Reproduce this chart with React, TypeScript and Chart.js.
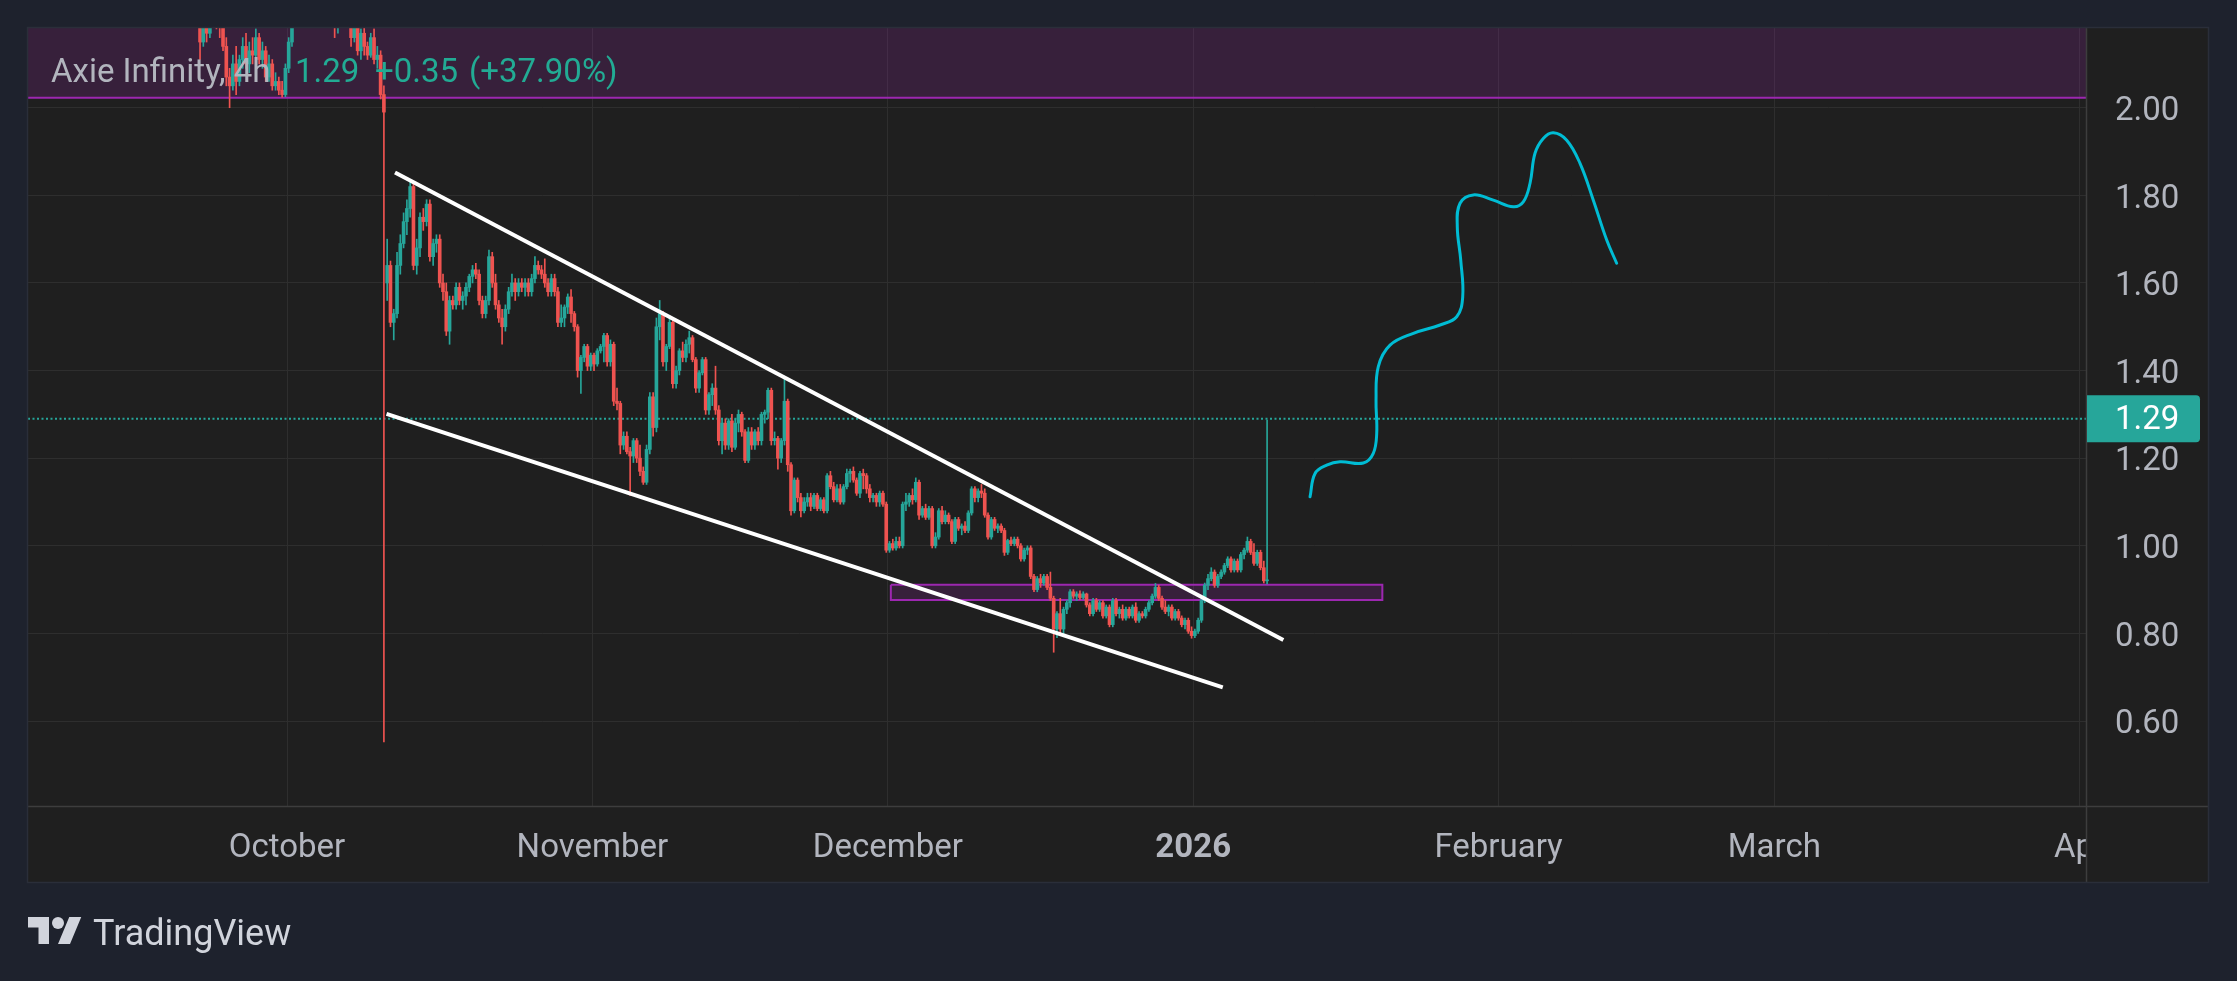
import React, { useEffect, useRef } from 'react';
import { Chart, registerables } from 'chart.js';

Chart.register(...registerables);

// ---------- data ----------
// Days are counted from 1 October 2025 (day 0). Candles are 8-hour bars.
const CANDLE_START_DAY = -10;
const CANDLE_PERIOD_DAYS = 1 / 3;

const OPEN = [
  2.28, 2.26, 2.25, 2.24, 2.15, 2.19, 2.17, 2.22, 2.23, 2.20, 2.19, 2.14, 2.07, 2.05, 2.10,
  2.06, 2.11, 2.14, 2.10, 2.13, 2.12, 2.16, 2.11, 2.13, 2.07, 2.10, 2.05, 2.06, 2.04, 2.03,
  2.09, 2.15, 2.20, 2.24, 2.29, 2.31, 2.28, 2.35, 2.40, 2.36, 2.33, 2.37, 2.34, 2.30, 2.26,
  2.19, 2.23, 2.26, 2.28, 2.26, 2.16, 2.20, 2.13, 2.17, 2.14, 2.12, 2.16, 2.11, 2.12, 2.03,
  1.60, 1.64, 1.51, 1.53, 1.64, 1.69, 1.74, 1.77, 1.82, 1.64, 1.68, 1.75, 1.74, 1.78, 1.66,
  1.69, 1.70, 1.60, 1.58, 1.49, 1.56, 1.55, 1.59, 1.56, 1.57, 1.59, 1.615, 1.63, 1.62, 1.56,
  1.53, 1.56, 1.66, 1.60, 1.55, 1.52, 1.50, 1.54, 1.58, 1.60, 1.58, 1.60, 1.59, 1.60, 1.58,
  1.61, 1.64, 1.63, 1.62, 1.60, 1.58, 1.61, 1.58, 1.51, 1.52, 1.545, 1.568, 1.53, 1.50, 1.40,
  1.43, 1.455, 1.41, 1.435, 1.415, 1.445, 1.455, 1.48, 1.42, 1.46, 1.33, 1.325, 1.23, 1.25, 1.215,
  1.205, 1.24, 1.20, 1.17, 1.145, 1.22, 1.34, 1.27, 1.50, 1.53, 1.42, 1.455, 1.51, 1.37, 1.40,
  1.445, 1.43, 1.46, 1.475, 1.425, 1.36, 1.395, 1.425, 1.31, 1.345, 1.36, 1.31, 1.24, 1.28, 1.23,
  1.285, 1.225, 1.28, 1.30, 1.26, 1.195, 1.26, 1.23, 1.26, 1.24, 1.30, 1.305, 1.355, 1.24, 1.245,
  1.20, 1.24, 1.33, 1.185, 1.08, 1.15, 1.11, 1.08, 1.10, 1.11, 1.09, 1.115, 1.085, 1.105, 1.08,
  1.16, 1.135, 1.105, 1.13, 1.10, 1.135, 1.165, 1.17, 1.15, 1.12, 1.165, 1.16, 1.13, 1.11, 1.115,
  1.10, 1.12, 1.095, 0.99, 1.005, 0.995, 1.01, 1.00, 1.095, 1.10, 1.115, 1.105, 1.145, 1.07, 1.085,
  1.065, 1.085, 1.00, 1.02, 1.08, 1.055, 1.07, 1.055, 1.01, 1.06, 1.04, 1.045, 1.035, 1.075, 1.13,
  1.11, 1.125, 1.12, 1.07, 1.02, 1.06, 1.04, 1.045, 1.035, 0.985, 1.012, 1.005, 1.015, 1.00, 0.97,
  0.99, 0.995, 0.93, 0.90, 0.925, 0.915, 0.93, 0.905, 0.88, 0.81, 0.845, 0.81, 0.855, 0.87, 0.895,
  0.885, 0.89, 0.882, 0.89, 0.865, 0.845, 0.875, 0.855, 0.87, 0.84, 0.86, 0.82, 0.875, 0.845, 0.855,
  0.835, 0.855, 0.84, 0.86, 0.83, 0.845, 0.84, 0.855, 0.87, 0.885, 0.905, 0.88, 0.86, 0.85, 0.86,
  0.835, 0.85, 0.835, 0.82, 0.83, 0.805, 0.795, 0.805, 0.83, 0.875, 0.91, 0.925, 0.94, 0.91, 0.93,
  0.94, 0.955, 0.97, 0.945, 0.965, 0.945, 0.98, 0.99, 1.01, 0.985, 0.96, 0.985, 0.95, 0.92,
];

const HIGH = [
  2.32, 2.30, 2.28, 2.26, 2.20, 2.22, 2.24, 2.26, 2.25, 2.22, 2.21, 2.16, 2.09, 2.12, 2.14,
  2.12, 2.16, 2.17, 2.15, 2.16, 2.18, 2.17, 2.15, 2.14, 2.12, 2.11, 2.08, 2.07, 2.06, 2.10,
  2.16, 2.21, 2.26, 2.31, 2.33, 2.34, 2.36, 2.42, 2.41, 2.38, 2.39, 2.38, 2.35, 2.31, 2.27,
  2.24, 2.27, 2.31, 2.30, 2.27, 2.22, 2.21, 2.18, 2.19, 2.15, 2.17, 2.18, 2.14, 2.13, 2.05,
  1.70, 1.65, 1.54, 1.67, 1.71, 1.76, 1.79, 1.83, 1.83, 1.70, 1.76, 1.77, 1.79, 1.79, 1.70,
  1.71, 1.71, 1.62, 1.60, 1.57, 1.57, 1.60, 1.60, 1.58, 1.60, 1.62, 1.64, 1.645, 1.63, 1.57,
  1.57, 1.675, 1.67, 1.62, 1.56, 1.54, 1.55, 1.59, 1.62, 1.61, 1.61, 1.61, 1.61, 1.61, 1.62,
  1.66, 1.65, 1.64, 1.655, 1.61, 1.62, 1.62, 1.59, 1.55, 1.55, 1.575, 1.585, 1.535, 1.505, 1.435,
  1.46, 1.46, 1.44, 1.44, 1.45, 1.46, 1.485, 1.485, 1.47, 1.465, 1.36, 1.33, 1.26, 1.26, 1.225,
  1.245, 1.245, 1.23, 1.18, 1.23, 1.35, 1.35, 1.52, 1.56, 1.535, 1.46, 1.52, 1.515, 1.41, 1.45,
  1.465, 1.47, 1.49, 1.48, 1.43, 1.40, 1.43, 1.43, 1.35, 1.37, 1.41, 1.32, 1.29, 1.29, 1.29,
  1.30, 1.29, 1.31, 1.305, 1.265, 1.27, 1.27, 1.265, 1.27, 1.305, 1.31, 1.36, 1.36, 1.26, 1.25,
  1.245, 1.385, 1.335, 1.19, 1.155, 1.155, 1.12, 1.11, 1.12, 1.12, 1.12, 1.12, 1.11, 1.11, 1.165,
  1.17, 1.145, 1.14, 1.14, 1.14, 1.175, 1.175, 1.18, 1.155, 1.17, 1.175, 1.165, 1.14, 1.12, 1.12,
  1.125, 1.125, 1.10, 1.01, 1.015, 1.02, 1.02, 1.10, 1.12, 1.12, 1.13, 1.155, 1.15, 1.09, 1.095,
  1.09, 1.09, 1.03, 1.085, 1.09, 1.08, 1.075, 1.06, 1.065, 1.065, 1.05, 1.055, 1.08, 1.135, 1.135,
  1.13, 1.14, 1.13, 1.075, 1.065, 1.065, 1.05, 1.05, 1.04, 1.015, 1.02, 1.02, 1.02, 1.005, 0.995,
  1.00, 1.00, 0.935, 0.93, 0.935, 0.935, 0.935, 0.94, 0.885, 0.85, 0.88, 0.86, 0.875, 0.90, 0.90,
  0.895, 0.897, 0.895, 0.892, 0.87, 0.88, 0.88, 0.875, 0.875, 0.865, 0.865, 0.88, 0.88, 0.86, 0.865,
  0.86, 0.86, 0.865, 0.87, 0.85, 0.85, 0.86, 0.875, 0.89, 0.914, 0.91, 0.885, 0.875, 0.865, 0.865,
  0.855, 0.855, 0.84, 0.835, 0.835, 0.815, 0.81, 0.835, 0.88, 0.915, 0.935, 0.95, 0.945, 0.935, 0.945,
  0.96, 0.975, 0.975, 0.97, 0.97, 0.985, 0.995, 1.02, 1.015, 1.005, 0.99, 0.99, 0.965, 1.287,
];

const LOW = [
  2.24, 2.22, 2.22, 2.11, 2.14, 2.15, 2.16, 2.19, 2.18, 2.16, 2.13, 2.05, 2.00, 2.04, 2.03,
  2.05, 2.09, 2.09, 2.08, 2.10, 2.11, 2.10, 2.09, 2.06, 2.06, 2.04, 2.04, 2.03, 2.024, 2.025,
  2.08, 2.14, 2.19, 2.23, 2.26, 2.27, 2.27, 2.33, 2.34, 2.31, 2.32, 2.32, 2.28, 2.24, 2.16,
  2.17, 2.21, 2.25, 2.24, 2.14, 2.15, 2.12, 2.11, 2.12, 2.11, 2.115, 2.10, 2.09, 2.02, 0.552,
  1.56, 1.50, 1.47, 1.52, 1.62, 1.68, 1.71, 1.75, 1.63, 1.62, 1.66, 1.72, 1.73, 1.65, 1.64,
  1.67, 1.59, 1.56, 1.48, 1.46, 1.54, 1.54, 1.55, 1.54, 1.55, 1.58, 1.60, 1.61, 1.55, 1.52,
  1.52, 1.55, 1.59, 1.54, 1.51, 1.46, 1.49, 1.53, 1.57, 1.56, 1.57, 1.58, 1.57, 1.57, 1.57,
  1.60, 1.62, 1.61, 1.59, 1.57, 1.57, 1.57, 1.50, 1.50, 1.50, 1.53, 1.51, 1.49, 1.385, 1.348,
  1.42, 1.40, 1.40, 1.40, 1.41, 1.44, 1.42, 1.41, 1.41, 1.32, 1.31, 1.21, 1.22, 1.21, 1.115,
  1.19, 1.19, 1.16, 1.14, 1.14, 1.21, 1.25, 1.26, 1.47, 1.41, 1.40, 1.45, 1.36, 1.36, 1.39,
  1.42, 1.42, 1.44, 1.42, 1.35, 1.35, 1.39, 1.30, 1.30, 1.32, 1.30, 1.23, 1.21, 1.22, 1.22,
  1.215, 1.22, 1.26, 1.25, 1.19, 1.19, 1.22, 1.22, 1.23, 1.23, 1.28, 1.29, 1.23, 1.23, 1.175,
  1.19, 1.23, 1.17, 1.07, 1.075, 1.10, 1.066, 1.075, 1.09, 1.08, 1.085, 1.08, 1.08, 1.075, 1.075,
  1.13, 1.10, 1.10, 1.095, 1.095, 1.13, 1.145, 1.145, 1.115, 1.11, 1.13, 1.12, 1.10, 1.10, 1.09,
  1.09, 1.09, 0.985, 0.985, 0.99, 0.99, 0.995, 0.995, 1.08, 1.09, 1.095, 1.10, 1.06, 1.065, 1.06,
  1.06, 0.995, 0.995, 1.015, 1.05, 1.05, 1.05, 1.005, 1.005, 1.035, 1.025, 1.03, 1.03, 1.07, 1.10,
  1.10, 1.11, 1.065, 1.015, 1.015, 1.035, 1.03, 1.03, 0.978, 0.98, 1.00, 1.00, 0.995, 0.965, 0.965,
  0.98, 0.925, 0.895, 0.895, 0.905, 0.91, 0.90, 0.875, 0.757, 0.79, 0.80, 0.795, 0.845, 0.86, 0.88,
  0.875, 0.877, 0.878, 0.86, 0.84, 0.84, 0.85, 0.85, 0.835, 0.835, 0.815, 0.815, 0.84, 0.835, 0.83,
  0.83, 0.835, 0.835, 0.825, 0.825, 0.835, 0.835, 0.85, 0.865, 0.88, 0.875, 0.855, 0.845, 0.84, 0.83,
  0.83, 0.83, 0.815, 0.81, 0.80, 0.789, 0.79, 0.80, 0.825, 0.87, 0.90, 0.92, 0.905, 0.905, 0.925,
  0.935, 0.95, 0.94, 0.94, 0.94, 0.94, 0.97, 0.985, 0.98, 0.955, 0.955, 0.945, 0.915, 0.913,
];

const CLOSE = [
  2.26, 2.25, 2.24, 2.15, 2.19, 2.17, 2.22, 2.23, 2.20, 2.19, 2.14, 2.07, 2.05, 2.10, 2.06,
  2.11, 2.14, 2.10, 2.13, 2.12, 2.16, 2.11, 2.13, 2.07, 2.10, 2.05, 2.06, 2.04, 2.03, 2.09,
  2.15, 2.20, 2.24, 2.29, 2.31, 2.28, 2.35, 2.40, 2.36, 2.33, 2.37, 2.34, 2.30, 2.26, 2.19,
  2.23, 2.26, 2.28, 2.26, 2.16, 2.20, 2.13, 2.17, 2.14, 2.12, 2.16, 2.11, 2.12, 2.03, 1.99,
  1.64, 1.51, 1.53, 1.64, 1.69, 1.74, 1.77, 1.82, 1.64, 1.68, 1.75, 1.74, 1.78, 1.66, 1.69,
  1.70, 1.60, 1.58, 1.49, 1.56, 1.55, 1.59, 1.56, 1.57, 1.59, 1.615, 1.63, 1.62, 1.56, 1.53,
  1.56, 1.66, 1.60, 1.55, 1.52, 1.50, 1.54, 1.58, 1.60, 1.58, 1.60, 1.59, 1.60, 1.58, 1.61,
  1.64, 1.63, 1.62, 1.60, 1.58, 1.61, 1.58, 1.51, 1.52, 1.545, 1.568, 1.53, 1.50, 1.40, 1.43,
  1.455, 1.41, 1.435, 1.415, 1.445, 1.455, 1.48, 1.42, 1.46, 1.33, 1.325, 1.23, 1.25, 1.215, 1.205,
  1.24, 1.20, 1.17, 1.145, 1.22, 1.34, 1.27, 1.50, 1.53, 1.42, 1.455, 1.51, 1.37, 1.40, 1.445,
  1.43, 1.46, 1.475, 1.425, 1.36, 1.395, 1.425, 1.31, 1.345, 1.36, 1.31, 1.24, 1.28, 1.23, 1.285,
  1.225, 1.28, 1.30, 1.26, 1.195, 1.26, 1.23, 1.26, 1.24, 1.30, 1.305, 1.355, 1.24, 1.245, 1.20,
  1.24, 1.33, 1.185, 1.08, 1.15, 1.11, 1.08, 1.10, 1.11, 1.09, 1.115, 1.085, 1.105, 1.08, 1.16,
  1.135, 1.105, 1.13, 1.10, 1.135, 1.165, 1.17, 1.15, 1.12, 1.165, 1.16, 1.13, 1.11, 1.115, 1.10,
  1.12, 1.095, 0.99, 1.005, 0.995, 1.01, 1.00, 1.095, 1.10, 1.115, 1.105, 1.145, 1.07, 1.085, 1.065,
  1.085, 1.00, 1.02, 1.08, 1.055, 1.07, 1.055, 1.01, 1.06, 1.04, 1.045, 1.035, 1.075, 1.13, 1.11,
  1.125, 1.12, 1.07, 1.02, 1.06, 1.04, 1.045, 1.035, 0.985, 1.012, 1.005, 1.015, 1.00, 0.97, 0.99,
  0.995, 0.93, 0.90, 0.925, 0.915, 0.93, 0.905, 0.88, 0.81, 0.845, 0.81, 0.855, 0.87, 0.895, 0.885,
  0.89, 0.882, 0.89, 0.865, 0.845, 0.875, 0.855, 0.87, 0.84, 0.86, 0.82, 0.875, 0.845, 0.855, 0.835,
  0.855, 0.84, 0.86, 0.83, 0.845, 0.84, 0.855, 0.87, 0.885, 0.905, 0.88, 0.86, 0.85, 0.86, 0.835,
  0.85, 0.835, 0.82, 0.83, 0.805, 0.795, 0.805, 0.83, 0.875, 0.91, 0.925, 0.94, 0.91, 0.93, 0.94,
  0.955, 0.97, 0.945, 0.965, 0.945, 0.98, 0.99, 1.01, 0.985, 0.96, 0.985, 0.95, 0.92, 0.92,
];

const MONTH_TICK_DAYS = [0, 31, 61, 92, 123, 151, 182];
const MONTH_TICK_LABELS = ['October', 'November', 'December', '2026', 'February', 'March', 'Apr'];
const PRICE_TICKS = [0.6, 0.8, 1.0, 1.2, 1.4, 1.6, 1.8, 2.0];

const X_MIN = -26.3;
const X_MAX = 182.64;
const Y_MIN = 0.406;
const Y_MAX = 2.182;

const LAST_PRICE = 1.29;
const LEGEND_SYMBOL = 'Axie Infinity, 4h';
const LEGEND_PRICE = '1.29';
const LEGEND_CHANGE = '+0.35';
const LEGEND_CHANGE_PCT = '(+37.90%)';

// drawings
const UPPER_TREND_X = [10.96, 101.15];
const UPPER_TREND_Y = [1.852, 0.785];
const LOWER_TREND_X = [10.1, 95.0];
const LOWER_TREND_Y = [1.301, 0.677];

const BOX_X = [61.3, 111.2];
const BOX_Y = [0.876, 0.911];

const ZONE_X = [-40, 200];
const ZONE_Y = [2.023, 2.7];

const PATH_X = [
  103.86, 104.37, 105.55, 106.9, 109.27, 110.28, 110.63, 110.56, 110.79, 111.98,
  114.35, 117.06, 118.75, 119.36, 119.16, 118.81, 119.09, 120.44, 122.47, 124.5,
  125.51, 126.19, 126.7, 127.54, 128.56, 129.92, 131.27, 132.62, 133.98, 134.99,
];
const PATH_Y = [
  1.112, 1.165, 1.184, 1.192, 1.189, 1.211, 1.257, 1.333, 1.409, 1.458,
  1.485, 1.504, 1.523, 1.568, 1.652, 1.728, 1.782, 1.801, 1.789, 1.774,
  1.785, 1.827, 1.896, 1.93, 1.943, 1.926, 1.873, 1.789, 1.698, 1.645,
];

// ---------- styles ----------
const UP = '#26a69a';
const DOWN = '#ef5350';
const PAGE_BG = '#1e222d';
const PANE_BG = '#1f1f1f';
const GRID = '#2e2e2e';
const SEPARATOR = '#3d3d3d';
const TEXT = '#b2b5be';
const FONT = 'Roboto, "Noto Sans", sans-serif';

const rectPoints = (xs: number[], ys: number[]) => [
  { x: xs[0], y: ys[1] },
  { x: xs[1], y: ys[1] },
  { x: xs[1], y: ys[0] },
  { x: xs[0], y: ys[0] },
  { x: xs[0], y: ys[1] },
];

const panePlugin = {
  id: 'pane',
  beforeDraw(chart: any) {
    const ctx = chart.ctx;
    const a = chart.chartArea;
    const xs = chart.scales.x;
    const ys = chart.scales.y;
    ctx.save();
    ctx.fillStyle = PANE_BG;
    ctx.fillRect(a.left, a.top, ys.right - a.left, xs.bottom - a.top);
    ctx.restore();
  },
  afterDraw(chart: any) {
    const ctx = chart.ctx;
    const a = chart.chartArea;
    const xs = chart.scales.x;
    const ys = chart.scales.y;
    ctx.save();
    // corner under the price scale (hides label overflow)
    ctx.fillStyle = PANE_BG;
    ctx.fillRect(a.right + 0.5, a.bottom + 0.5, ys.right - a.right, xs.bottom - a.bottom);
    // separators
    ctx.strokeStyle = SEPARATOR;
    ctx.lineWidth = 1.5;
    ctx.beginPath();
    ctx.moveTo(a.right + 0.5, a.top);
    ctx.lineTo(a.right + 0.5, xs.bottom);
    ctx.moveTo(a.left, a.bottom + 0.5);
    ctx.lineTo(ys.right, a.bottom + 0.5);
    ctx.stroke();
    // outer frame
    ctx.strokeStyle = '#2a2e39';
    ctx.lineWidth = 1.5;
    ctx.strokeRect(a.left - 0.5, a.top - 0.5, ys.right - a.left + 1, xs.bottom - a.top + 1);

    // last price label
    const py = ys.getPixelForValue(LAST_PRICE);
    const h = 47;
    ctx.fillStyle = UP;
    ctx.beginPath();
    if (ctx.roundRect) {
      ctx.roundRect(a.right + 1, py - h / 2, 113, h, [0, 4, 4, 0]);
    } else {
      ctx.rect(a.right + 1, py - h / 2, 113, h);
    }
    ctx.fill();
    ctx.fillStyle = '#ffffff';
    ctx.font = `33px ${FONT}`;
    ctx.textBaseline = 'middle';
    ctx.textAlign = 'left';
    ctx.fillText(LAST_PRICE.toFixed(2), a.right + 29, py + 2);
    ctx.restore();
  },
};

function CandleChart() {
  const ref = useRef<HTMLCanvasElement | null>(null);

  useEffect(() => {
    if (!ref.current) return;
    const times = OPEN.map((_, i) => CANDLE_START_DAY + (i + 0.5) * CANDLE_PERIOD_DAYS);
    const colors = OPEN.map((o, i) => (CLOSE[i] >= o ? UP : DOWN));

    const lineBase = {
      type: 'line' as const,
      pointRadius: 0,
      pointHoverRadius: 0,
      tension: 0,
      clip: 0,
    };

    const chart = new Chart(ref.current, {
      type: 'bar',
      data: {
        datasets: [
          {
            ...lineBase,
            label: 'zone',
            data: rectPoints(ZONE_X, ZONE_Y),
            borderColor: '#9c27b0',
            borderWidth: 2,
            backgroundColor: 'rgba(156,39,176,0.2)',
            fill: 'shape',
            order: 9,
          },
          {
            ...lineBase,
            label: 'box',
            data: rectPoints(BOX_X, BOX_Y),
            borderColor: '#9c27b0',
            borderWidth: 2,
            backgroundColor: 'rgba(156,39,176,0.2)',
            fill: 'shape',
            order: 8,
          },
          {
            ...lineBase,
            label: 'last',
            data: [
              { x: X_MIN, y: LAST_PRICE },
              { x: X_MAX, y: LAST_PRICE },
            ],
            borderColor: UP,
            borderWidth: 2,
            borderDash: [2, 2.5],
            fill: false,
            order: 7,
          },
          {
            type: 'bar' as const,
            label: 'wicks',
            data: times.map((t, i) => ({ x: t, y: [LOW[i], HIGH[i]] })) as any,
            backgroundColor: colors,
            borderWidth: 0,
            barThickness: 1,
            grouped: false,
            clip: 0,
            order: 6,
          },
          {
            type: 'bar' as const,
            label: 'bodies',
            data: times.map((t, i) => ({ x: t, y: [OPEN[i], CLOSE[i]] })) as any,
            backgroundColor: colors,
            borderWidth: 0,
            barThickness: 3,
            minBarLength: 1,
            grouped: false,
            clip: 0,
            order: 5,
          },
          {
            ...lineBase,
            label: 'upper',
            data: UPPER_TREND_X.map((x, i) => ({ x, y: UPPER_TREND_Y[i] })),
            borderColor: '#ffffff',
            borderWidth: 4,
            fill: false,
            order: 2,
          },
          {
            ...lineBase,
            label: 'lower',
            data: LOWER_TREND_X.map((x, i) => ({ x, y: LOWER_TREND_Y[i] })),
            borderColor: '#ffffff',
            borderWidth: 4,
            fill: false,
            order: 2,
          },
          {
            ...lineBase,
            label: 'path',
            data: PATH_X.map((x, i) => ({ x, y: PATH_Y[i] })),
            borderColor: '#00bcd4',
            borderWidth: 3,
            tension: 0.4,
            borderCapStyle: 'round',
            borderJoinStyle: 'round',
            fill: false,
            order: 1,
          },
        ] as any,
      },
      options: {
        animation: false,
        responsive: false,
        maintainAspectRatio: false,
        devicePixelRatio: 1,
        events: [],
        layout: { padding: { left: 28, top: 28, right: 29, bottom: 99 } },
        plugins: {
          legend: { display: false },
          tooltip: { enabled: false },
        },
        scales: {
          x: {
            type: 'linear',
            min: X_MIN,
            max: X_MAX,
            offset: false,
            grid: { color: GRID, lineWidth: 1, drawTicks: false, offset: false },
            border: { display: false },
            ticks: {
              autoSkip: false,
              maxRotation: 0,
              padding: 23,
              color: TEXT,
              font: (ctx: any) => ({
                family: FONT,
                size: 33,
                weight: ctx.tick && ctx.tick.label === '2026' ? 'bold' : 'normal',
              }),
              callback: (v: any) => {
                const i = MONTH_TICK_DAYS.indexOf(Number(v));
                return i >= 0 ? MONTH_TICK_LABELS[i] : '';
              },
            },
            afterBuildTicks: (s: any) => {
              s.ticks = MONTH_TICK_DAYS.map((v) => ({ value: v }));
            },
            afterFit: (s: any) => {
              s.height = 76;
              s.paddingLeft = 0;
              s.paddingRight = 0;
            },
          },
          y: {
            type: 'linear',
            position: 'right',
            min: Y_MIN,
            max: Y_MAX,
            beginAtZero: false,
            grid: { color: GRID, lineWidth: 1, drawTicks: false },
            border: { display: false },
            ticks: {
              padding: 29,
              labelOffset: 4,
              color: TEXT,
              font: { family: FONT, size: 33 },
              callback: (v: any) => Number(v).toFixed(2),
            },
            afterBuildTicks: (s: any) => {
              s.ticks = PRICE_TICKS.map((v) => ({ value: v }));
            },
            afterFit: (s: any) => {
              s.width = 122;
              s.paddingTop = 0;
              s.paddingBottom = 0;
            },
          },
        },
      } as any,
      plugins: [panePlugin],
    });

    return () => chart.destroy();
  }, []);

  return (
    <canvas
      ref={ref}
      width={2237}
      height={981}
      style={{ position: 'absolute', left: 0, top: 0, width: 2237, height: 981 }}
    />
  );
}

export default function App() {
  const legendBase: React.CSSProperties = {
    position: 'absolute',
    top: 54,
    fontFamily: FONT,
    fontSize: 33,
    lineHeight: '33px',
    whiteSpace: 'nowrap',
  };
  return (
    <div
      style={{
        position: 'fixed',
        left: 0,
        top: 0,
        width: 2237,
        height: 981,
        background: PAGE_BG,
        overflow: 'hidden',
      }}
    >
      <CandleChart />
      <div style={{ ...legendBase, left: 51, color: TEXT }}>{LEGEND_SYMBOL}</div>
      <div style={{ ...legendBase, left: 295, color: '#22ab94' }}>{LEGEND_PRICE}</div>
      <div style={{ ...legendBase, left: 375, color: '#22ab94' }}>{LEGEND_CHANGE}</div>
      <div style={{ ...legendBase, left: 469, color: '#22ab94' }}>{LEGEND_CHANGE_PCT}</div>

      <svg
        width={54}
        height={42}
        viewBox="0 0 36 28"
        style={{ position: 'absolute', left: 28, top: 911 }}
      >
        <path d="M14 22H7V11H0V4h14v18zM28 22h-8l7.5-18h8L28 22z" fill="#d1d4dc" />
        <circle cx={20} cy={8} r={4} fill="#d1d4dc" />
      </svg>
      <div
        style={{
          position: 'absolute',
          left: 93,
          top: 915,
          fontFamily: FONT,
          fontSize: 36,
          lineHeight: '36px',
          color: '#d1d4dc',
          whiteSpace: 'nowrap',
        }}
      >
        TradingView
      </div>
    </div>
  );
}
